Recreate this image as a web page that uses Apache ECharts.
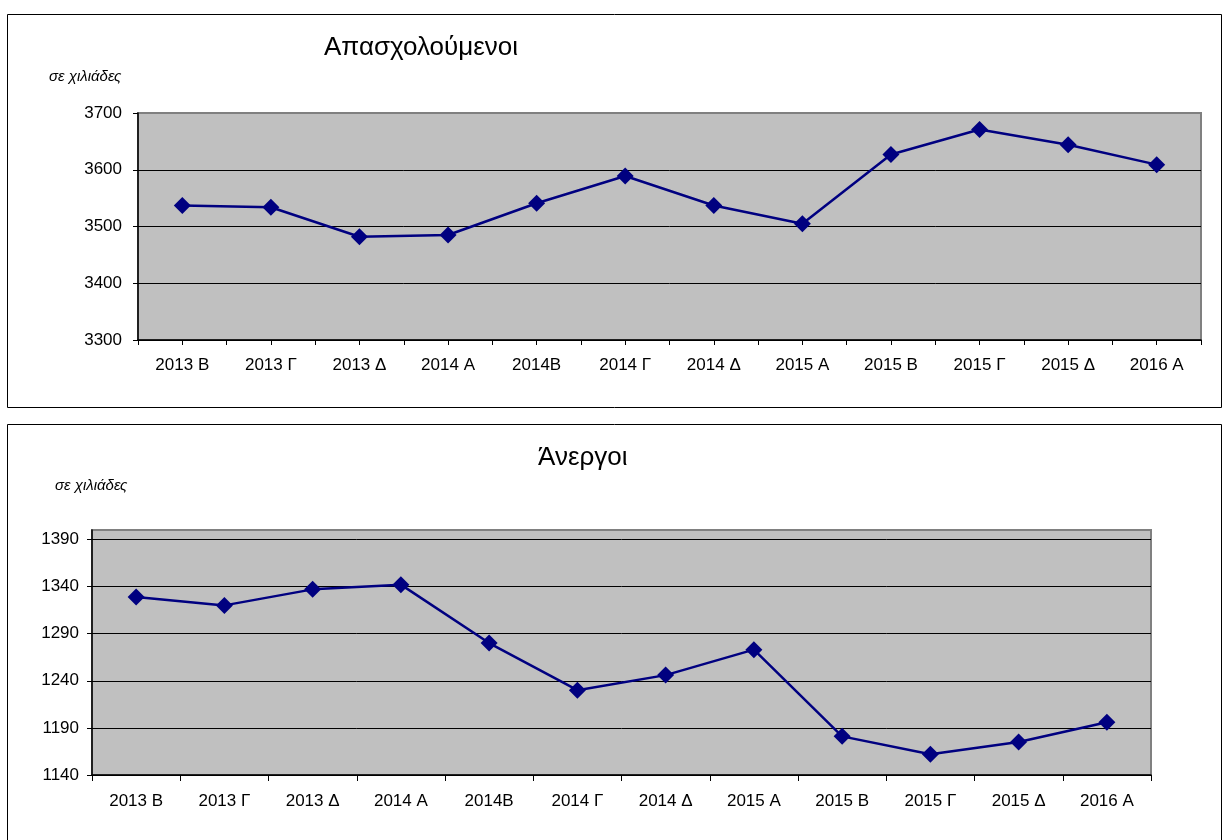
<!DOCTYPE html>
<html>
<head>
<meta charset="utf-8">
<script src="https://cdn.jsdelivr.net/npm/echarts@6/dist/echarts.min.js"></script>
<style>
html,body{margin:0;padding:0;background:#fff;}
#chart{width:1223px;height:840px;}
</style>
</head>
<body>
<div id="chart"></div>
<script>
var quarters = ['2013 Β','2013 Γ','2013 Δ','2014 Α','2014Β','2014 Γ','2014 Δ','2015 Α','2015 Β','2015 Γ','2015 Δ','2016 Α'];
var quartersB = ['2013 Β','2013 Γ','2013 Δ','2014 Α','2014Β','2014 Γ','2014 Δ','2015 Α','2015 Β','2015 Γ','2015 Δ','2016 Α'];
var employed = [3537,3534,3482,3485,3541,3589,3537,3505,3627,3671,3644,3609];
var unemployed = [1329,1320,1337,1342,1280,1230,1246,1273,1181,1162,1175,1196];
var halfTicks = ['','','','','','','','','','','','','','','','','','','','','','','',''];

var chart = echarts.init(document.getElementById('chart'));
var font = '"Liberation Sans", Arial, sans-serif';
var navy = '#000080';

function lineSeries(name, data, xi, yi){
	return {
		name:name,
		type:'line',
		xAxisIndex:xi,
		yAxisIndex:yi,
		data:data,
		symbol:'diamond',
		symbolSize:17,
		lineStyle:{color:navy,width:2.5},
		itemStyle:{color:navy},
		silent:true,
		animation:false
	};
}

var option = {
	animation:false,
	textStyle:{fontFamily:font},
	title:[{
		text:'Απασχολούμενοι',
		left:319,
		top:30,
		textStyle:{fontSize:26,fontWeight:'normal',color:'#000',fontFamily:font}
	},{
		text:'Άνεργοι',
		left:533,
		top:440,
		textStyle:{fontSize:26,fontWeight:'normal',color:'#000',fontFamily:font}
	}],
	graphic:[
		{type:'rect',shape:{x:7.5,y:14.5,width:1214,height:393},style:{fill:null,stroke:'#000',lineWidth:1},silent:true},
		{type:'rect',shape:{x:7.5,y:424.5,width:1214,height:430},style:{fill:null,stroke:'#000',lineWidth:1},silent:true},
		{type:'text',left:49,top:69,style:{text:'σε χιλιάδες',font:'italic 15px "Liberation Sans", Arial',fill:'#000'},silent:true},
		{type:'text',left:55,top:478,style:{text:'σε χιλιάδες',font:'italic 15px "Liberation Sans", Arial',fill:'#000'},silent:true}
	],
	grid:[
		{left:138,top:113,width:1063,height:227,show:true,backgroundColor:'#C0C0C0',borderColor:'#808080',borderWidth:2},
		{left:92,top:530,width:1059,height:245,show:true,backgroundColor:'#C0C0C0',borderColor:'#808080',borderWidth:2}
	],
	xAxis:[{
		type:'category',gridIndex:0,data:quarters,boundaryGap:true,
		axisLine:{lineStyle:{color:'#000',width:1.5}},
		axisTick:{show:false},
		axisLabel:{color:'#000',fontSize:17,margin:17,interval:0}
	},{
		type:'category',gridIndex:0,data:halfTicks,boundaryGap:true,position:'bottom',
		axisLine:{show:false},
		axisTick:{show:true,length:5,lineStyle:{color:'#000'}},
		axisLabel:{show:false}
	},{
		type:'category',gridIndex:1,data:quartersB,boundaryGap:true,
		axisLine:{lineStyle:{color:'#000',width:1.5}},
		axisTick:{show:true,length:6,lineStyle:{color:'#000'}},
		axisLabel:{color:'#000',fontSize:17,margin:18,interval:0}
	}],
	yAxis:[{
		type:'value',gridIndex:0,min:3300,max:3700,interval:100,
		axisLine:{show:true,lineStyle:{color:'#000',width:1.5}},
		axisTick:{show:true,length:5,lineStyle:{color:'#000'}},
		axisLabel:{color:'#000',fontSize:17,margin:16,formatter:function(v){return String(v);}},
		splitLine:{show:true,lineStyle:{color:['#000','#000','#000','#000','#808080'],width:1}}
	},{
		type:'value',gridIndex:1,min:1140,max:1400,interval:50,
		axisLine:{show:true,lineStyle:{color:'#000',width:1.5}},
		axisTick:{show:true,length:5,lineStyle:{color:'#000'}},
		axisLabel:{color:'#000',fontSize:17,margin:13,showMaxLabel:false,
			formatter:function(v){return v===1400?'':String(v);}},
		splitLine:{show:true,lineStyle:{color:['#000','#000','#000','#000','#000','#000','#808080'],width:1}}
	}],
	series:[
		lineSeries('Απασχολούμενοι', employed, 0, 0),
		lineSeries('Άνεργοι', unemployed, 2, 1)
	]
};
chart.setOption(option);
</script>
</body>
</html>
